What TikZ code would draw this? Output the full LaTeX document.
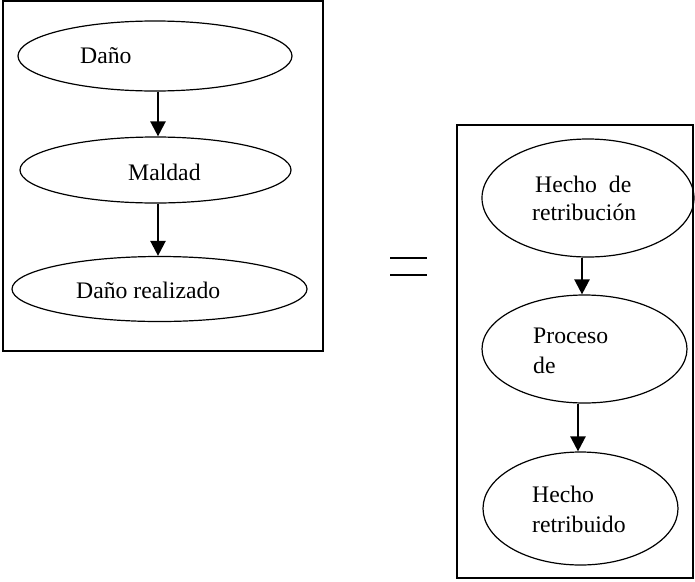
\documentclass[tikz,border=0pt]{standalone}
\usepackage{fontspec}
\setmainfont{Liberation Serif}
\usetikzlibrary{shapes.geometric,arrows.meta,calc}
\begin{document}
\begin{tikzpicture}[x=1pt,y=-1pt,
  frame/.style={draw,line width=1.4pt},
  oval/.style={ellipse,draw,line width=1.2pt,inner sep=0pt},
  lbl/.style={anchor=base west,inner sep=0pt,font=\fontsize{23.7}{29}\selectfont},
  arr/.style={line width=2.4pt,-{Triangle[length=15pt,width=15pt]}}]
\useasboundingbox (0,0) rectangle (695,581);

% left column
\draw[frame] (3,1) rectangle (323,351);
\node[oval,minimum width=274,minimum height=70] (dano) at (155,56) {};
\node[oval,minimum width=271,minimum height=66] (maldad) at (155.5,170) {};
\node[oval,minimum width=295,minimum height=65] (realizado) at (159.5,289) {};
\node[lbl] (tdano) at (80,63) {Daño};
\node[lbl] (tmaldad) at (128,180) {Maldad};
\node[lbl] (trealizado) at (76,298) {Daño realizado};
\coordinate (s1) at ([xshift=3pt]dano.south);
\coordinate (s2) at ([xshift=2.5pt]maldad.south);
\draw[arr] (s1) -- (s1 |- maldad.north);
\draw[arr] (s2) -- (s2 |- realizado.north);

% equals sign
\draw[line width=2.4pt] (390,258) -- (427,258);
\draw[line width=2.4pt] (390,275) -- (427,275);

% right column
\draw[frame] (457,125) rectangle (693,578);
\node[oval,minimum width=212,minimum height=118] (hecho) at (588,198) {};
\node[oval,minimum width=205,minimum height=108] (proceso) at (584.5,349) {};
\node[oval,minimum width=195,minimum height=113] (retribuido) at (580.5,508.5) {};
\node[lbl] (thecho1) at (535,192) {Hecho\ \ de};
\node[lbl] (thecho2) at (532,220) {retribución};
\node[lbl] (tproceso1) at (533,343) {Proceso};
\node[lbl] (tproceso2) at (533,373) {de};
\node[lbl] (tretrib1) at (532,502) {Hecho};
\node[lbl] (tretrib2) at (532,532) {retribuido};
\coordinate (s3) at ([xshift=-6pt]hecho.south);
\coordinate (s4) at ([xshift=-6.5pt]proceso.south);
\draw[arr] (s3) -- (s3 |- proceso.north);
\draw[arr] (s4) -- (s4 |- retribuido.north);
\end{tikzpicture}
\end{document}
